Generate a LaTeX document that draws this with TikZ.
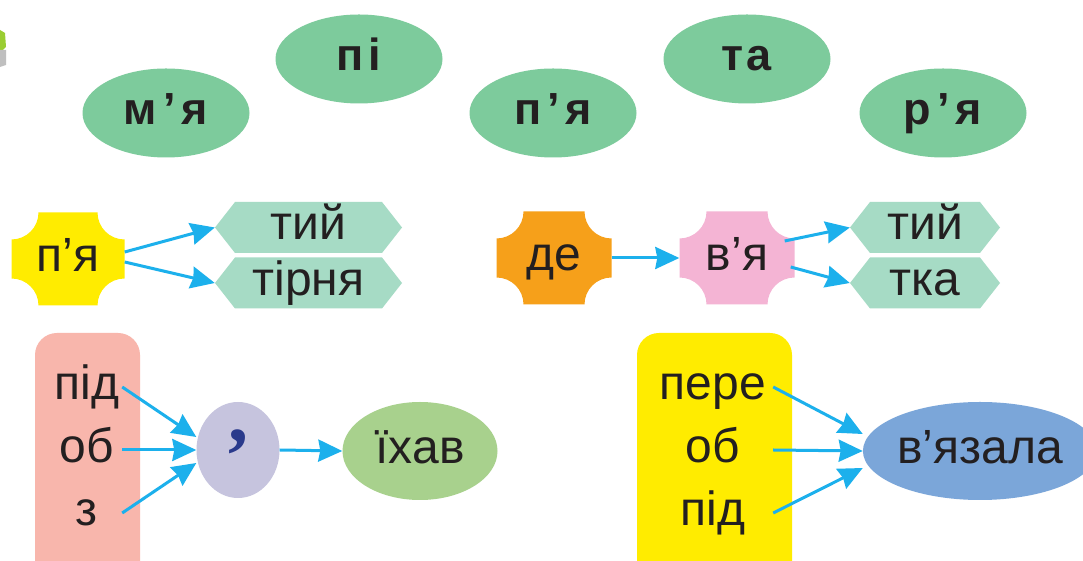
\documentclass[tikz,border=0pt]{standalone}
\usepackage{fontspec}
\setmainfont{Liberation Sans}
\newfontfamily\commafont{Liberation Serif}
\usetikzlibrary{shapes.geometric,arrows.meta}
\definecolor{topgreen}{HTML}{7DCB9C}
\definecolor{hexgreen}{HTML}{A6DBC5}
\definecolor{yell}{HTML}{FFEC00}
\definecolor{orng}{HTML}{F6A01A}
\definecolor{pnk}{HTML}{F4B4D4}
\definecolor{salmon}{HTML}{F8B6AC}
\definecolor{lav}{HTML}{C6C4DE}
\definecolor{olive}{HTML}{A8D18D}
\definecolor{blu}{HTML}{7BA6D9}
\definecolor{arrowc}{HTML}{1CB0EC}
\definecolor{txt}{HTML}{231F20}
\definecolor{commac}{HTML}{2A3A8C}
\definecolor{lime}{HTML}{9ACD32}
\tikzset{
  base/.style={inner sep=0pt, text=txt, font=\fontsize{48}{50}\selectfont, text height=25pt, text depth=0pt},
  topell/.style={base, ellipse, fill=topgreen, minimum width=167pt, minimum height=89pt, font=\fontsize{45}{47}\selectfont\bfseries, text height=23pt},
  hexbox/.style={base, rectangle, minimum height=51pt,
    path picture={\fill[hexgreen] ([xshift=20pt]path picture bounding box.north west) -- ([xshift=-20pt]path picture bounding box.north east) -- (path picture bounding box.east) -- ([xshift=-20pt]path picture bounding box.south east) -- ([xshift=20pt]path picture bounding box.south west) -- (path picture bounding box.west) -- cycle;}},
  crossbox/.style={base, rectangle, minimum width=113pt, minimum height=93pt,
    path picture={\fill[#1] ([xshift=27pt]path picture bounding box.north west) -- ([xshift=-27pt]path picture bounding box.north east) arc[start angle=180, end angle=270, radius=27pt] -- ([yshift=27pt]path picture bounding box.south east) arc[start angle=90, end angle=180, radius=27pt] -- ([xshift=27pt]path picture bounding box.south west) arc[start angle=0, end angle=90, radius=27pt] -- ([yshift=-27pt]path picture bounding box.north west) arc[start angle=270, end angle=360, radius=27pt] -- cycle;}},
  word/.style={base},
  conn/.style={line width=3pt, draw=arrowc, -{Stealth[length=24pt,width=22pt,inset=2pt]}},
}
\begin{document}
\begin{tikzpicture}[x=1pt,y=1pt]
\clip (0,0) rectangle (1083,561);
\fill[white] (0,0) rectangle (1083,561);
% cropped fragment at the left edge
\fill[lime] (0,531) -- (5,528) -- (6,514) -- (0,508) -- cycle;
\fill[gray!50] (0,511) -- (6,511) -- (6,496) -- (0,494) -- cycle;

% top ellipses
\node[topell] (m) at (166,448) {м\kern6pt’\kern6pt я};
\node[topell] (pi) at (359,502) {п\kern5pt і};
\node[topell] (p) at (553,448) {п\kern6pt’\kern6pt я};
\node[topell] (ta) at (747,502) {т\kern3pt а};
\node[topell] (r) at (943,448) {р\kern6pt’\kern6pt я};

% middle row
\node[crossbox=yell] (pya) at (68,302) {п’я};
\node[hexbox, minimum width=187pt] (h1) at (308.5,333.5) {тий};
\node[hexbox, minimum width=187pt] (h2) at (308.5,278) {тірня};
\node[crossbox=orng, minimum width=115pt] (de) at (554,303) {де};
\node[crossbox=pnk, minimum width=115pt] (vya) at (737,303) {в’я};
\node[hexbox, minimum width=150pt] (h3) at (925,333.5) {тий};
\node[hexbox, minimum width=150pt] (h4) at (925,278) {тка};

\draw[conn] ([yshift=7pt]pya.east) -- (h1.west);
\draw[conn] ([yshift=-3pt]pya.east) -- (h2.west);
\draw[conn] (de.east) -- (vya.west);
\draw[conn] ([yshift=17pt,xshift=-10pt]vya.east) -- (h3.west);
\draw[conn] ([yshift=-9pt,xshift=-4pt]vya.east) -- (h4.west);

% bottom left
\fill[salmon, rounded corners=22pt] (35,-40) rectangle (140,228);
\node[word, minimum width=70pt] (lpid) at (87,174) {під};
\node[word, minimum width=70pt] (lob) at (87,111) {об};
\node[word, minimum width=70pt] (lz) at (87,48) {з};
\node[ellipse, fill=lav, minimum width=83pt, minimum height=96pt, inner sep=0pt, text=commac, font=\commafont\bfseries\fontsize{80}{82}\selectfont, text height=2pt, text depth=18pt] (cm) at (238,111) {,};
\node[base, ellipse, fill=olive, minimum width=155pt, minimum height=98pt] (ihav) at (420,110) {їхав};
\draw[conn] (lpid.east) -- ([yshift=13pt]cm.west);
\draw[conn] (lob.east) -- (cm.west);
\draw[conn] (lz.east) -- ([yshift=-13pt]cm.west);
\draw[conn] (cm.east) -- (ihav.west);

% bottom right
\fill[yell, rounded corners=22pt] (637,-40) rectangle (792,228);
\node[word, minimum width=120pt] (rpere) at (713,174) {пере};
\node[word, minimum width=120pt] (rob) at (713,111) {об};
\node[word, minimum width=120pt] (rpid) at (713,48) {під};
\node[base, ellipse, fill=blu, minimum width=190pt, minimum height=98pt] (vz) at (980,110) {в’язала};
\draw[conn] (rpere.east) -- ([yshift=17pt]vz.west);
\draw[conn] (rob.east) -- (vz.west);
\draw[conn] (rpid.east) -- ([yshift=-17pt]vz.west);
\end{tikzpicture}
\end{document}
